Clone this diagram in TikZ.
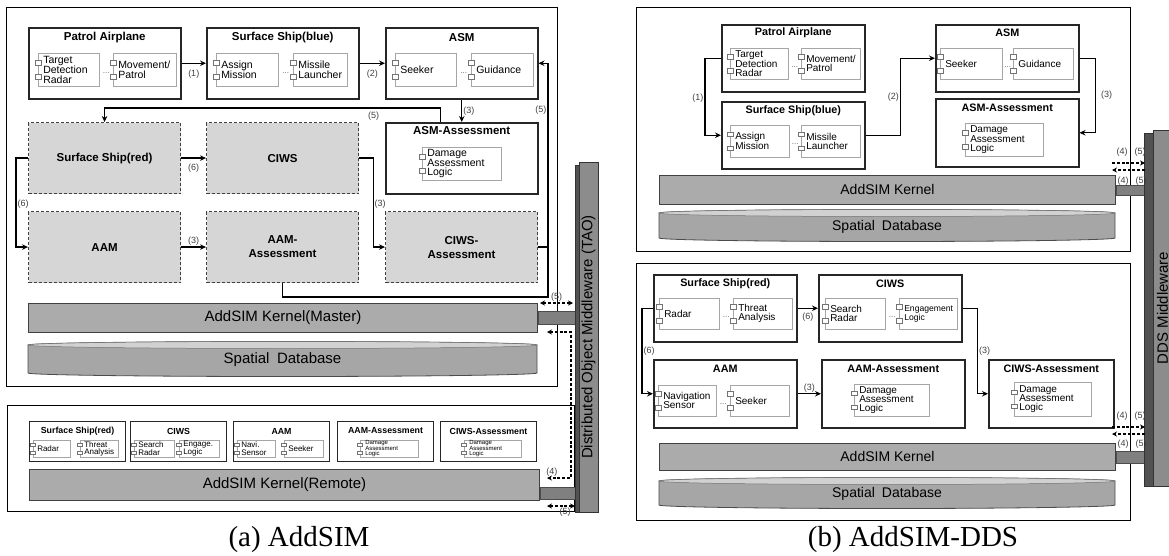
\documentclass[tikz,border=0pt]{standalone}
\usepackage{fontspec}
\setmainfont{Liberation Sans}
\newfontfamily\capfont{Liberation Serif}
\usetikzlibrary{positioning,arrows.meta,calc}

\newcommand{\fsz}[2]{\fontsize{#1}{#2}\selectfont}
\newcommand{\tabw}{3}
\newcommand{\tabh}{2.3}

% UML component with two port tabs on its left edge
% [tab offset]{name}{north west corner}{width}{height}{text}
\newcommand{\umlpart}[6][7pt]{%
  \pgfmathsetmacro{\partw}{#4-10}%
  \node[part, text width=\partw pt, minimum height=#5, anchor=north west] (#2) at #3 {#6};
  \draw[port] ([yshift=#1]#2.west) +(-\tabw,-\tabh) rectangle +(\tabw,\tabh);
  \draw[port] ([yshift=-#1]#2.west) +(-\tabw,-\tabh) rectangle +(\tabw,\tabh);
}

% flat cylinder for the spatial database: {name}{x1}{y1}{x2}{y2}
\newcommand{\spatialdb}[5]{%
  \pgfmathsetmacro{\dbr}{(#4-#2)/2}%
  \filldraw[dbbody] (#2,#3) -- (#2,#5) arc[start angle=180, end angle=0, x radius=\dbr, y radius=3.5]
    -- (#4,#3) arc[start angle=0, end angle=-180, x radius=\dbr, y radius=3.5] -- cycle;
  \filldraw[dbtop] ($(#2,#3)!0.5!(#4,#3)$) ellipse[x radius=\dbr, y radius=3.5];
  \node[dbtext] (#1) at ($(#2,#3)!0.5!(#4,#5)+(0,1)$) {Spatial\enspace Database};
}

\begin{document}
\begin{tikzpicture}[x=1pt, y=-1pt,
  panel/.style={draw, line width=1pt, anchor=north west, inner sep=0pt},
  unit/.style={draw=black!85, line width=1.5pt, fill=white, anchor=north west, inner sep=0pt, minimum width=152, minimum height=71},
  ghost/.style={unit, draw=black!75, line width=1.1pt, dash pattern=on 3pt off 2pt, fill=black!16, align=center, font=\bfseries\fsz{11.5}{14}},
  cell/.style={unit, line width=1.1pt, minimum width=96, minimum height=40},
  head/.style={font=\bfseries\fsz{11.5}{11.5}, inner sep=0pt},
  headS/.style={font=\bfseries\fsz{8.8}{8.8}, inner sep=0pt},
  part/.style={draw=black!35, line width=0.5pt, fill=white, inner xsep=5pt, inner ysep=0pt, align=left, font=\fsz{10.5}{9.6}},
  port/.style={draw=black!55, line width=0.45pt, fill=white},
  ellip/.style={font=\fsz{8}{8}, inner sep=0pt, text=black!60},
  kernel/.style={draw=black!75, line width=0.9pt, fill=black!33, anchor=north west, inner sep=0pt, font=\fsz{15}{15}},
  dbbody/.style={draw=black!70, line width=0.8pt, fill=black!35},
  dbtop/.style={draw=black!55, line width=0.5pt, fill=black!18},
  dbtext/.style={font=\fsz{15}{15}, inner sep=0pt},
  plug/.style={draw=black!70, line width=0.7pt, fill=black!50, anchor=west, inner sep=0pt},
  mware/.style={draw=black!80, line width=0.8pt, fill=black!45, inner sep=0pt, font=\fsz{15}{15}},
  side/.style={draw=black!80, line width=0.8pt, fill=black!68},
  arr/.style={-{Stealth[length=6pt, width=5.5pt, inset=2pt]}, line width=1.2pt},
  link/.style={line width=1.2pt},
  dline/.style={dash pattern=on 3pt off 1.8pt, line width=1.2pt},
  both/.style={dline, {Stealth[length=5pt, width=5pt]}-{Stealth[length=5pt, width=5pt]}},
  push/.style={dline, -{Stealth[length=5pt, width=5pt]}},
  lab/.style={font=\fsz{9}{9}, text=black!75, inner sep=1pt},
  capt/.style={font=\capfont\fsz{29}{29}, inner sep=0pt},
]
\useasboundingbox (0,0) rectangle (1169,555);

% ================= (a) master federate =================
\node[panel, minimum width=551, minimum height=379] (mastA) at (6,7) {};

\node[unit] (patA) at (28,27) {};
\node[unit] (blueA) at (206,27) {};
\node[unit] (asmA) at (385,27) {};
\node[unit] (asmEvA) at (385,122) {};
\node[ghost] (redA) at (28,122) {Surface Ship(red)};
\node[ghost] (ciwsA) at (206,122) {CIWS};
\node[ghost] (aamA) at (28,211) {AAM};
\node[ghost] (aamEvA) at (206,211) {AAM-\\Assessment};
\node[ghost] (ciwsEvA) at (385,211) {CIWS-\\Assessment};

\node[head] (patAh) at ([yshift=-11pt]patA.north) {Patrol Airplane};
\node[head] (blueAh) at ([yshift=-11pt]blueA.north) {Surface Ship(blue)};
\node[head] (asmAh) at ([yshift=-11pt]asmA.north) {ASM};
\node[head] (asmEvAh) at ([yshift=-9pt]asmEvA.north) {ASM-Assessment};

\umlpart{patA1}{(38,53)}{61}{33}{Target\\Detection\\Radar}
\umlpart{patA2}{(113,53)}{63}{33}{Movement/\\Patrol}
\umlpart{blueA1}{(216,53)}{62}{33}{Assign\\Mission}
\umlpart{blueA2}{(293,53)}{54}{33}{Missile\\Launcher}
\umlpart{asmA1}{(395,53)}{61}{33}{Seeker}
\umlpart{asmA2}{(471,53)}{62}{33}{Guidance}
\umlpart{asmEvA1}{(422,147)}{79}{33}{Damage\\Assessment\\Logic}
\foreach \p in {patA, blueA, asmA}
  \node[ellip] (\p-d) at ($(\p1.east)!0.5!(\p2.west)+(0,3)$) {...};

\draw[arr] (patA) -- node[lab, below=5pt]{(1)} (blueA);
\draw[arr] (blueA) -- node[lab, below=5pt]{(2)} (asmA);
\draw[arr] (asmA) -- node[lab, right]{(3)} (asmEvA);
\draw[arr] ([xshift=-21pt]asmEvA.north) -- ++(0,-14) -| node[lab, pos=0.1, below=2pt]{(5)} (redA.north);
\draw[arr] (redA) -- node[lab, below=4pt]{(6)} (ciwsA);
\draw[arr] (redA.west) -- ++(-12,0) |- node[lab, pos=0.26, right]{(6)} (aamA.west);
\draw[arr] (aamA) -- node[lab, above]{(3)} (aamEvA);
\draw[arr] (ciwsA.east) -- ++(14,0) |- node[lab, pos=0.26, right]{(3)} (ciwsEvA.west);
\coordinate (joinA) at (548,297);
\draw[link] (ciwsEvA.east) -- (ciwsEvA.east -| joinA);
\draw[arr] (aamEvA.south) |- (joinA) |- node[lab, pos=0.4, left]{(5)} (asmA.east);

\node[kernel, minimum width=509, minimum height=29] (kerA) at (28,303) {AddSIM Kernel(Master)};
\spatialdb{dbA}{28}{345}{537}{373}
\node[plug, minimum width=38, minimum height=13] (plugA) at (kerA.east) {};

% ================= (a) remote federate =================
\node[panel, minimum width=567, minimum height=106] (remA) at (7,405) {};
\node[cell] (redR) at (29,421) {};
\node[cell] (ciwsR) at (130,421) {};
\node[cell] (aamR) at (233,421) {};
\node[cell] (aamEvR) at (337,421) {};
\node[cell] (ciwsEvR) at (440,421) {};
\foreach \n/\t in {redR/Surface Ship(red), ciwsR/CIWS, aamR/AAM, aamEvR/AAM-Assessment, ciwsEvR/CIWS-Assessment}
  \node[headS] (\n-h) at ([yshift=-10pt]\n.north) {\t};

\begin{scope}[part/.append style={font=\fsz{8}{7.4}, inner xsep=4pt}]
\renewcommand{\tabw}{2.3}\renewcommand{\tabh}{1.7}
\umlpart[4pt]{redR1}{(33,440)}{39}{17}{Radar}
\umlpart[4pt]{redR2}{(80,440)}{40}{17}{Threat\\Analysis}
\umlpart[4pt]{ciwsR1}{(134,440)}{42}{17}{Search\\Radar}
\umlpart[4pt]{ciwsR2}{(179,440)}{42}{17}{Engage.\\Logic}
\umlpart[4pt]{aamR1}{(237,440)}{40}{17}{Navi.\\Sensor}
\umlpart[4pt]{aamR2}{(284,440)}{41}{17}{Seeker}
\end{scope}
\begin{scope}[part/.append style={font=\fsz{6}{5.2}}]
\renewcommand{\tabw}{2.3}\renewcommand{\tabh}{1.7}
\umlpart[4pt]{aamEvR1}{(360,440)}{58}{17}{Damage\\Assessment\\Logic}
\umlpart[4pt]{ciwsEvR1}{(464,440)}{57}{17}{Damage\\Assessment\\Logic}
\end{scope}

\node[kernel, minimum width=510, minimum height=31] (kerR) at (29,469) {AddSIM Kernel(Remote)};
\node[plug, minimum width=36, minimum height=12] (plugR) at ([yshift=-8pt]kerR.east) {};

% TAO bus between the two federates
\draw[side] (575,165) rectangle (579,512);
\node[mware, rotate=90, minimum width=350, minimum height=19] (tao) at (588.5,337) {Distributed Object Middleware (TAO)};

\coordinate (m5L) at (540,303); \coordinate (m5R) at (573,303);
\draw[both] (m5L) -- node[lab, above]{(5)} (m5R);
\coordinate (m4T) at (547,332); \coordinate (m4B) at (547,478);
\draw[both] (m4T) -- ++(24,0) |- node[lab, pos=0.9, above]{(4)} (m4B);
\coordinate (r5L) at (547,506); \coordinate (r5R) at (575,506);
\draw[both] (r5L) -- node[lab, below=0pt, xshift=4pt]{(5)} (r5R);

% ================= (b) upper federate =================
\begin{scope}[unit/.append style={minimum width=143, minimum height=67},
  head/.append style={font=\bfseries\fsz{10.8}{10.8}},
  part/.append style={font=\fsz{10}{9.2}},
  kernel/.append style={font=\fsz{14}{14}}, dbtext/.append style={font=\fsz{14}{14}}]
\node[panel, minimum width=494, minimum height=244] (topB) at (636,7) {};
\node[unit] (patB) at (721,24) {};
\node[unit] (blueB) at (721,101) {};
\node[unit] (asmB) at (935,24) {};
\node[unit, minimum height=68] (asmEvB) at (935,98) {};
\node[head] (patBh) at ([yshift=-9pt]patB.north) {Patrol Airplane};
\node[head] (blueBh) at ([yshift=-10pt]blueB.north) {Surface Ship(blue)};
\node[head] (asmBh) at ([yshift=-9pt]asmB.north) {ASM};
\node[head] (asmEvBh) at ([yshift=-10pt]asmEvB.north) {ASM-Assessment};

\umlpart{patB1}{(730,48)}{58}{31}{Target\\Detection\\Radar}
\umlpart{patB2}{(801,48)}{59}{31}{Movement/\\Patrol}
\umlpart{blueB1}{(730,125)}{59}{32}{Assign\\Mission}
\umlpart{blueB2}{(801,125)}{59}{32}{Missile\\Launcher}
\umlpart{asmB1}{(940,48)}{62}{31}{Seeker}
\umlpart{asmB2}{(1013,48)}{60}{31}{Guidance}
\umlpart{asmEvB1}{(965,123)}{78}{33}{Damage\\Assessment\\Logic}
\foreach \p in {patB, blueB, asmB}
  \node[ellip] (\p-d) at ($(\p1.east)!0.5!(\p2.west)+(0,3)$) {...};

\draw[arr] (patB.west) -- ++(-16,0) |- node[lab, pos=0.26, left]{(1)} (blueB.west);
\draw[arr] (blueB.east) -- ++(35,0) |- node[lab, pos=0.25, left]{(2)} (asmB.west);
\draw[arr] (asmB.east) -- ++(16,0) |- node[lab, pos=0.25, right=4pt]{(3)} (asmEvB.east);

\node[kernel, minimum width=456, minimum height=29] (kerB) at (659,175) {AddSIM Kernel};
\spatialdb{dbB}{659}{213}{1115}{238}
\node[plug, minimum width=32, minimum height=10] (plugB) at (kerB.east) {};

% ================= (b) lower federate =================
\node[panel, minimum width=494, minimum height=257] (botB) at (636,263) {};
\node[unit] (redB) at (653,274) {};
\node[unit] (ciwsB) at (818,274) {};
\node[unit, minimum height=68] (aamB) at (653,359) {};
\node[unit, minimum height=68] (aamEvB) at (821,359) {};
\node[unit, minimum width=125, minimum height=68] (ciwsEvB) at (988,359) {};
\foreach \n/\t in {redB/Surface Ship(red), ciwsB/CIWS, aamB/AAM, aamEvB/AAM-Assessment, ciwsEvB/CIWS-Assessment}
  \node[head] (\n-h) at ([yshift=-10pt]\n.north) {\t};

\umlpart{redB1}{(659,298)}{60}{31}{Radar}
\umlpart{redB2}{(733,298)}{59}{31}{Threat\\Analysis}
\umlpart{ciwsB1}{(825,298)}{60}{31}{Search\\Radar}
\begin{scope}[part/.append style={font=\fsz{8.6}{9.2}}]
\umlpart{ciwsB2}{(899,298)}{58}{31}{Engagement\\Logic}
\end{scope}
\umlpart{aamB1}{(658,385)}{58}{31}{Navigation\\Sensor}
\umlpart{aamB2}{(730,385)}{59}{31}{Seeker}
\umlpart{aamEvB1}{(854,384)}{75}{32}{Damage\\Assessment\\Logic}
\umlpart{ciwsEvB1}{(1014,382)}{77}{34}{Damage\\Assessment\\Logic}
\foreach \p in {redB, ciwsB, aamB}
  \node[ellip] (\p-d) at ($(\p1.east)!0.5!(\p2.west)+(0,3)$) {...};

\draw[arr] (redB) -- node[lab, below=3pt]{(6)} (ciwsB);
\draw[arr] (redB.west) -- ++(-11,0) |- node[lab, pos=0.25, right]{(6)} (aamB.west);
\draw[arr] (aamB) -- node[lab, above]{(3)} (aamEvB);
\draw[arr] (ciwsB.east) -- ++(15,0) |- node[lab, pos=0.25, right]{(3)} (ciwsEvB.west);

\node[kernel, minimum width=456, minimum height=27] (kerB2) at (659,443) {AddSIM Kernel};
\spatialdb{dbB2}{659}{481}{1115}{505}
\node[plug, minimum width=32, minimum height=12] (plugB2) at (kerB2.east) {};
\end{scope}

% DDS bus
\draw[side] (1144,133) rectangle (1153,486);
\node[mware, rotate=90, minimum width=356, minimum height=19] (dds) at (1162.5,308) {DDS Middleware};

\coordinate (u4L) at (1112,163); \coordinate (u4R) at (1145,163);
\coordinate (u5L) at (1112,170); \coordinate (u5R) at (1145,170);
\draw[push] (u4L) -- (u4R);
\draw[push] (u5R) -- (u5L);
\node[lab] (u4a) at (1122,152) {(4)}; \node[lab] (u5a) at (1140,152) {(5)};
\node[lab] (u4b) at (1123,181) {(4)}; \node[lab] (u5b) at (1141,181) {(5)};

\coordinate (l4L) at (1112,427); \coordinate (l4R) at (1145,427);
\coordinate (l5L) at (1112,434); \coordinate (l5R) at (1145,434);
\draw[push] (l4L) -- (l4R);
\draw[push] (l5R) -- (l5L);
\node[lab] (l4a) at (1122,416) {(4)}; \node[lab] (l5a) at (1140,416) {(5)};
\node[lab] (l4b) at (1123,444) {(4)}; \node[lab] (l5b) at (1141,444) {(5)};

% captions
\node[capt] (capA) at (299,540) {(a) AddSIM};
\node[capt] (capB) at (913,540) {(b) AddSIM-DDS};
\end{tikzpicture}
\end{document}
